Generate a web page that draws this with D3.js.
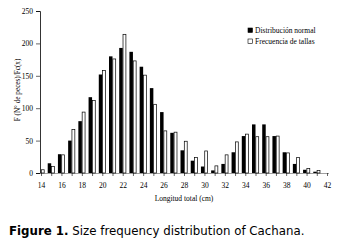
<!DOCTYPE html>
<html>
<head>
<meta charset="utf-8">
<script src="https://cdn.jsdelivr.net/npm/d3@7"></script>
<style>
  body { margin: 0; background: #fff; }
  svg { display: block; }
</style>
</head>
<body>
<svg id="chart" width="339" height="244"></svg>
<script>
// lengths (cm), one category per integer
const lengths = d3.range(14, 43);
// Distribución normal (black)
const normal = [0, 15, 29, 50, 80, 117, 152, 180, 193, 187, 164, 131, 94, 62, 35, 19, 10, 4, 14, 32, 57, 75, 75, 57, 32, 14, 5, 2, 0];
// Frecuencia de tallas (white)
const freq = [5, 10, 28, 67, 94, 112, 158, 176, 214, 173, 151, 106, 65, 63, 49, 24, 34, 11, 28, 48, 60, 56, 56, 57, 31, 24, 7, 4, 0];
const yTicks = [0, 50, 100, 150, 200, 250];

const svg = d3.select("#chart");
const serif = "'Liberation Serif', 'Times New Roman', serif";

const x = d3.scaleLinear().domain([14, 42]).range([41, 327]);
const y = d3.scaleLinear().domain([0, 250]).range([173, 11]);
const bw = 3.5;

// y axis
const yAxis = svg.append("g")
  .attr("transform", "translate(40,0)")
  .call(d3.axisLeft(y).tickValues(yTicks).tickSize(4).tickPadding(3));
yAxis.select(".domain").attr("stroke", "#000").attr("stroke-width", 0.8);

// x axis
const xAxis = svg.append("g")
  .attr("transform", "translate(0,173)")
  .call(d3.axisBottom(x).tickValues(lengths).tickSize(3).tickPadding(7)
    .tickFormat(d => d % 2 === 0 ? d : ""));
xAxis.select(".domain").attr("stroke", "#888").attr("stroke-width", 0.8)
  .attr("d", "M40,0.5H329");

svg.selectAll(".tick line").attr("stroke", "#000").attr("stroke-width", 0.6);
svg.selectAll(".tick text").attr("font-family", serif).attr("font-size", 7.5).attr("fill", "#000");

// bars
svg.append("g").selectAll("rect")
  .data(lengths.map((l, i) => ({ l, v: normal[i] })).filter(d => d.v > 0))
  .join("rect")
  .attr("x", d => x(d.l) - bw)
  .attr("y", d => y(d.v))
  .attr("width", bw)
  .attr("height", d => y(0) - y(d.v))
  .attr("fill", "#000");

svg.append("g").selectAll("rect")
  .data(lengths.map((l, i) => ({ l, v: freq[i] })).filter(d => d.v > 0))
  .join("rect")
  .attr("x", d => x(d.l) + 0.3)
  .attr("y", d => y(d.v))
  .attr("width", bw - 0.6)
  .attr("height", d => y(0) - y(d.v))
  .attr("fill", "#fff")
  .attr("stroke", "#000")
  .attr("stroke-width", 0.7);

// axis titles
svg.append("text")
  .attr("transform", "translate(20,90) rotate(-90)")
  .attr("text-anchor", "middle")
  .attr("font-family", serif).attr("font-size", 7.2)
  .text("F (N° de peces)/Fc(x)");

svg.append("text")
  .attr("x", 184).attr("y", 201)
  .attr("text-anchor", "middle")
  .attr("font-family", serif).attr("font-size", 7.5)
  .text("Longitud total (cm)");

// legend
const legend = [
  { name: "Distribución normal", fill: "#000" },
  { name: "Frecuencia de tallas", fill: "#fff" }
];
const lg = svg.append("g").selectAll("g")
  .data(legend).join("g")
  .attr("transform", (d, i) => `translate(248,${28 + i * 11})`);
lg.append("rect")
  .attr("width", 4.5).attr("height", 4.5)
  .attr("fill", d => d.fill).attr("stroke", "#000").attr("stroke-width", 0.6);
lg.append("text")
  .attr("x", 7).attr("y", 4.8)
  .attr("font-family", serif).attr("font-size", 7.5)
  .text(d => d.name);

// caption
const cap = svg.append("text")
  .attr("x", 9).attr("y", 235)
  .attr("font-family", "'DejaVu Sans', Verdana, sans-serif").attr("font-size", 11.8)
  .attr("fill", "#000");
cap.append("tspan").attr("font-weight", "bold").text("Figure 1.");
cap.append("tspan").text(" Size frequency distribution of Cachana.");
</script>
</body>
</html>
